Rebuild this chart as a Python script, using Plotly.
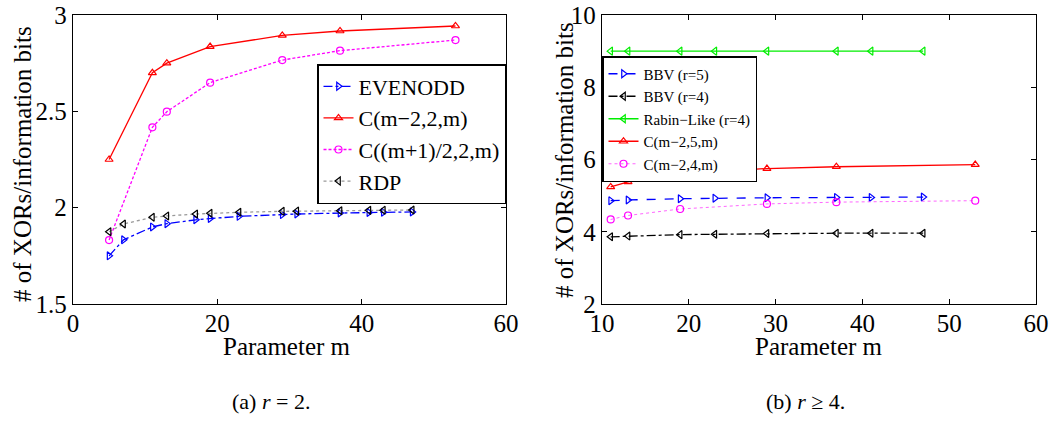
import plotly.graph_objects as go

# ---- data: (a) r = 2 ----
m_evenodd = [5, 7, 11, 13, 17, 19, 23, 29, 31, 37, 41, 43, 47]
evenodd = [1.75, 1.833, 1.90, 1.917, 1.937, 1.944, 1.955, 1.964, 1.967, 1.972, 1.975, 1.976, 1.978]
m_rdp = [5, 7, 11, 13, 17, 19, 23, 29, 31, 37, 41, 43, 47]
rdp = [1.875, 1.915, 1.950, 1.957, 1.967, 1.971, 1.976, 1.981, 1.982, 1.984, 1.986, 1.987, 1.988]
m_c = [5, 11, 13, 19, 29, 37, 53]
c_m2_2 = [2.25, 2.70, 2.75, 2.836, 2.894, 2.917, 2.943]
c_half_2 = [1.832, 2.417, 2.498, 2.649, 2.766, 2.815, 2.87]

# ---- data: (b) r >= 4 ----
m_bbv = [11, 13, 19, 23, 29, 37, 41, 47]
bbv5 = [4.86, 4.88, 4.915, 4.93, 4.94, 4.95, 4.95, 4.96]
bbv4 = [3.86, 3.88, 3.92, 3.93, 3.95, 3.96, 3.96, 3.96]
rabin4 = [9.0, 9.0, 9.0, 9.0, 9.0, 9.0, 9.0, 9.0]
m_cb = [11, 13, 19, 29, 37, 53]
c_m2_5 = [5.24, 5.38, 5.60, 5.75, 5.80, 5.86]
c_m2_4 = [4.34, 4.45, 4.63, 4.77, 4.82, 4.86]

FONT = "Liberation Serif, Times New Roman, DejaVu Serif, serif"
W, H = 1053, 431

fig = go.Figure()

def add(x, y, name, color, dash, symbol, xa, ya, legend, width=1.3, mcolor=None):
    mc = mcolor or color
    fig.add_trace(go.Scatter(
        x=x, y=y, name=name, mode="lines+markers",
        line=dict(color=color, dash=dash, width=width),
        marker=dict(symbol=symbol, size=7, color=mc, line=dict(width=1.2, color=mc)),
        xaxis=xa, yaxis=ya, legend=legend))

add(m_evenodd, evenodd, "EVENODD", "#0000ff", "dashdot", "triangle-right-open", "x", "y", "legend")
add(m_c, c_m2_2, "C(m\u22122,2,m)", "#ff0000", "solid", "triangle-up-open", "x", "y", "legend")
add(m_c, c_half_2, "C((m+1)/2,2,m)", "#ff00ff", "3px,2px", "circle-open", "x", "y", "legend")
add(m_rdp, rdp, "RDP", "#999999", "dot", "triangle-left-open", "x", "y", "legend", mcolor="black")

add(m_bbv, bbv5, "BBV (r=5)", "#0000ff", "dash", "triangle-right-open", "x2", "y2", "legend2")
add(m_bbv, bbv4, "BBV (r=4)", "#000000", "dashdot", "triangle-left-open", "x2", "y2", "legend2")
add(m_bbv, rabin4, "Rabin\u2212Like (r=4)", "#00ee00", "solid", "triangle-left-open", "x2", "y2", "legend2")
add(m_cb, c_m2_5, "C(m\u22122,5,m)", "#ff0000", "solid", "triangle-up-open", "x2", "y2", "legend2")
add(m_cb, c_m2_4, "C(m\u22122,4,m)", "#ff66ff", "dot", "circle-open", "x2", "y2", "legend2", width=1, mcolor="#ff00ff")

ydom = [1 - 304 / H, 1 - 15 / H]
axis_common = dict(showline=True, linecolor="black", linewidth=1.3, mirror="ticks",
                   ticks="inside", ticklen=5, tickcolor="black", showgrid=False, zeroline=False,
                   automargin=False,
                   tickfont=dict(family=FONT, size=25, color="black"))

def note(text, x, y, size, angle=0):
    return dict(text=text, x=x / W, y=1 - y / H, xref="paper", yref="paper",
                xanchor="center", yanchor="middle", showarrow=False, textangle=angle,
                font=dict(family=FONT, size=size, color="black"))

fig.update_layout(
    width=W, height=H, margin=dict(l=0, r=0, t=0, b=0),
    paper_bgcolor="white", plot_bgcolor="white",
    font=dict(family=FONT, color="black"),
    xaxis=dict(domain=[73 / W, 506 / W], range=[0, 60], tickvals=[0, 20, 40, 60], anchor="y",
               ticklabelstandoff=-3, **axis_common),
    yaxis=dict(domain=ydom, range=[1.5, 3], tickvals=[1.5, 2, 2.5, 3], ticktext=["1.5", "2", "2.5", "3"],
               anchor="x", **axis_common),
    xaxis2=dict(domain=[602 / W, 1036 / W], range=[10, 60], tickvals=[10, 20, 30, 40, 50, 60], anchor="y2",
                ticklabelstandoff=-3, **axis_common),
    yaxis2=dict(domain=ydom, range=[2, 10], tickvals=[2, 4, 6, 8, 10], anchor="x2", **axis_common),
    legend=dict(x=506 / W, xanchor="right", y=1 - 64 / H, yanchor="top",
                bgcolor="white", bordercolor="black", borderwidth=1.5,
                font=dict(family=FONT, size=22), tracegroupgap=0, itemwidth=30),
    legend2=dict(x=602 / W, xanchor="left", y=1 - 56 / H, yanchor="top",
                 bgcolor="white", bordercolor="black", borderwidth=1.5,
                 font=dict(family=FONT, size=15), tracegroupgap=0, itemwidth=30),
    annotations=[
        note("Parameter m", 287, 346, 25),
        note("Parameter m", 819, 346, 25),
        note("# of XORs/information bits", 22, 164, 25, -90),
        note("# of XORs/information bits", 564, 160, 25, -90),
        note("(a) <i>r</i> = 2.", 271, 401, 22),
        note("(b) <i>r</i> \u2265 4.", 805, 401, 22),
    ],
)

fig.write_html("out.html", config={"displayModeBar": False},
               post_script="document.body.style.margin='0';document.body.style.padding='0';")
